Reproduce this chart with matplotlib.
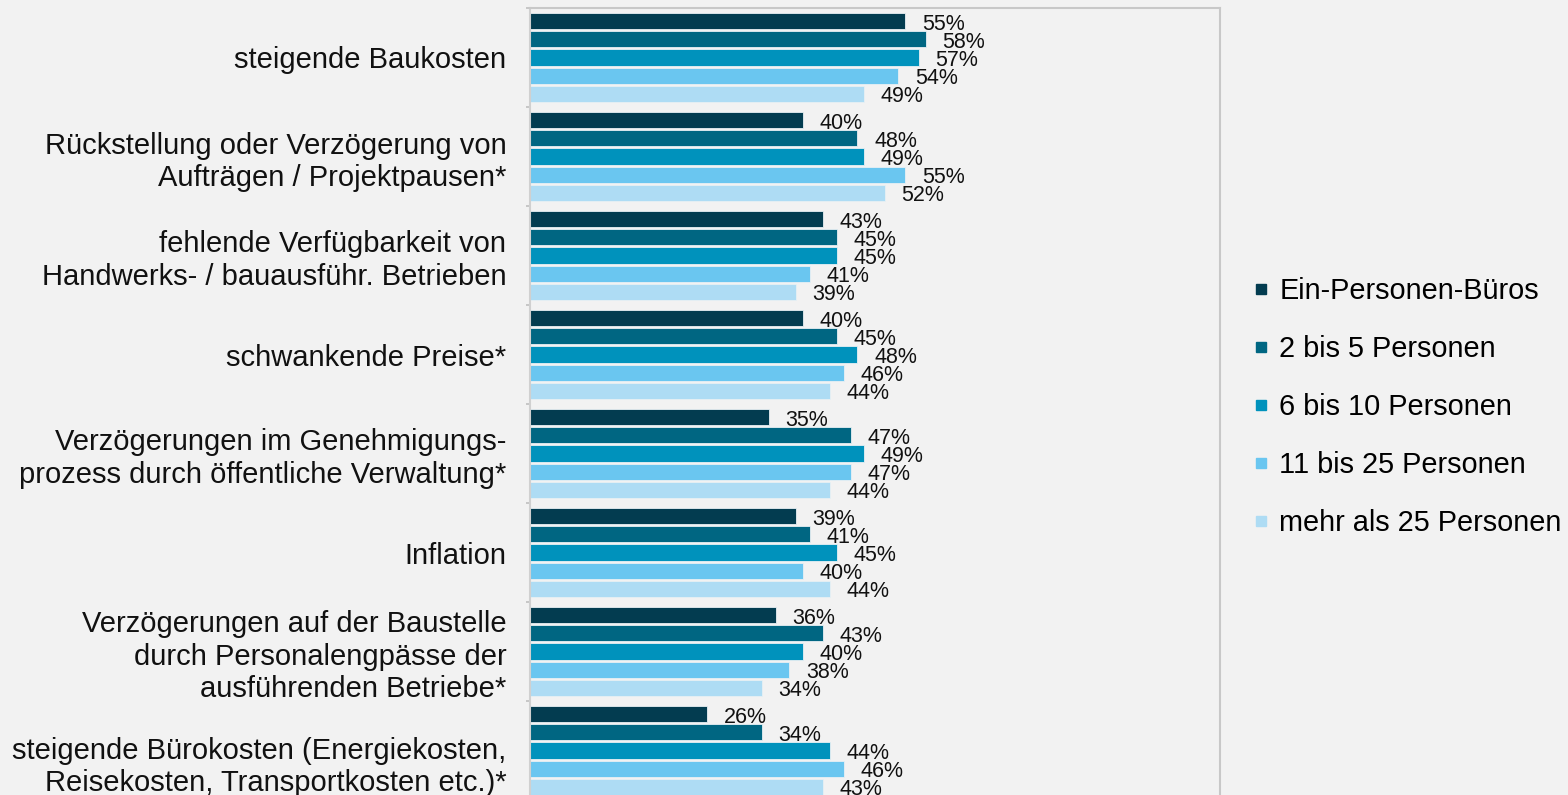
import numpy as np
import matplotlib.pyplot as plt
import matplotlib.transforms as mtransforms
from matplotlib.lines import Line2D

plt.rcParams['font.family'] = ['Liberation Sans', 'DejaVu Sans']

categories = [
    "steigende Baukosten",
    "Rückstellung oder Verzögerung von\nAufträgen / Projektpausen*",
    "fehlende Verfügbarkeit von\nHandwerks- / bauausführ. Betrieben",
    "schwankende Preise*",
    "Verzögerungen im Genehmigungs-\nprozess durch öffentliche Verwaltung*",
    "Inflation",
    "Verzögerungen auf der Baustelle\ndurch Personalengpässe der\nausführenden Betriebe*",
    "steigende Bürokosten (Energiekosten,\nReisekosten, Transportkosten etc.)*",
]
series = ["Ein-Personen-Büros", "2 bis 5 Personen", "6 bis 10 Personen",
          "11 bis 25 Personen", "mehr als 25 Personen"]

ein_personen = [55, 40, 43, 40, 35, 39, 36, 26]
p2_5 = [58, 48, 45, 45, 47, 41, 43, 34]
p6_10 = [57, 49, 45, 48, 49, 45, 40, 44]
p11_25 = [54, 55, 41, 46, 47, 40, 38, 46]
p_mehr25 = [49, 52, 39, 44, 44, 44, 34, 43]

values = [ein_personen, p2_5, p6_10, p11_25, p_mehr25]
colors = ["#033c50", "#006682", "#0092bc", "#6ac6f0", "#aedcf4"]

bg = "#f2f2f2"
fig = plt.figure(figsize=(15.68, 7.95), dpi=100, facecolor=bg)
W, H = 1568, 795
# plot area in pixels: x 530..1220, y 8..800 (runs slightly past the bottom)
ax = fig.add_axes([530/W, (H-800)/H, 690/W, 792/H])
ax.set_facecolor(bg)

y = np.arange(len(categories))
pitch = 0.183
bh = 0.162
for j, (vals, c) in enumerate(zip(values, colors)):
    ypos = y + (j - 2) * pitch
    v = np.array(vals) / 100
    ax.barh(ypos, v, height=bh, color=c, edgecolor="#e8f0f4", linewidth=0.6)
    for yy, val in zip(ypos, vals):
        ax.annotate(f"{val}%", (val/100, yy), xytext=(12, -2.2),
                    textcoords="offset points", ha="left", va="center",
                    fontsize=15.5, color="#111111")

ax.set_xlim(0, 690/682)
ax.set_ylim(len(categories) - 0.5, -0.5)
ax.set_xticks([])
ax.set_yticks(y)
ax.set_yticklabels(categories, fontsize=21, color="#111111")
ax.tick_params(axis="y", which="major", length=0, pad=17)
ax.set_yticks(np.arange(-0.5, len(categories)), minor=True)
ax.tick_params(axis="y", which="minor", length=3, width=1.2, color="#bfbfbf")

# last label sits a little lower
last = ax.get_yticklabels()[-1]
last.set_transform(last.get_transform() +
                   mtransforms.ScaledTranslation(0, -8/72, fig.dpi_scale_trans))

for s in ax.spines.values():
    s.set_color("#c8c8c8")
    s.set_linewidth(1.5)
ax.spines["left"].set_color("#d0d0d0")

handles = [Line2D([], [], linestyle="none", marker="s", markersize=7.5,
                  markerfacecolor=c, markeredgecolor=c) for c in colors]
fig.legend(handles, series, loc="center left", bbox_to_anchor=(1252/W, 1 - 407/H),
           frameon=False, fontsize=20.8, handlelength=0.6, handletextpad=0.35,
           labelspacing=1.04, borderpad=0, borderaxespad=0)

plt.savefig("out.png", dpi=100, facecolor=bg)
